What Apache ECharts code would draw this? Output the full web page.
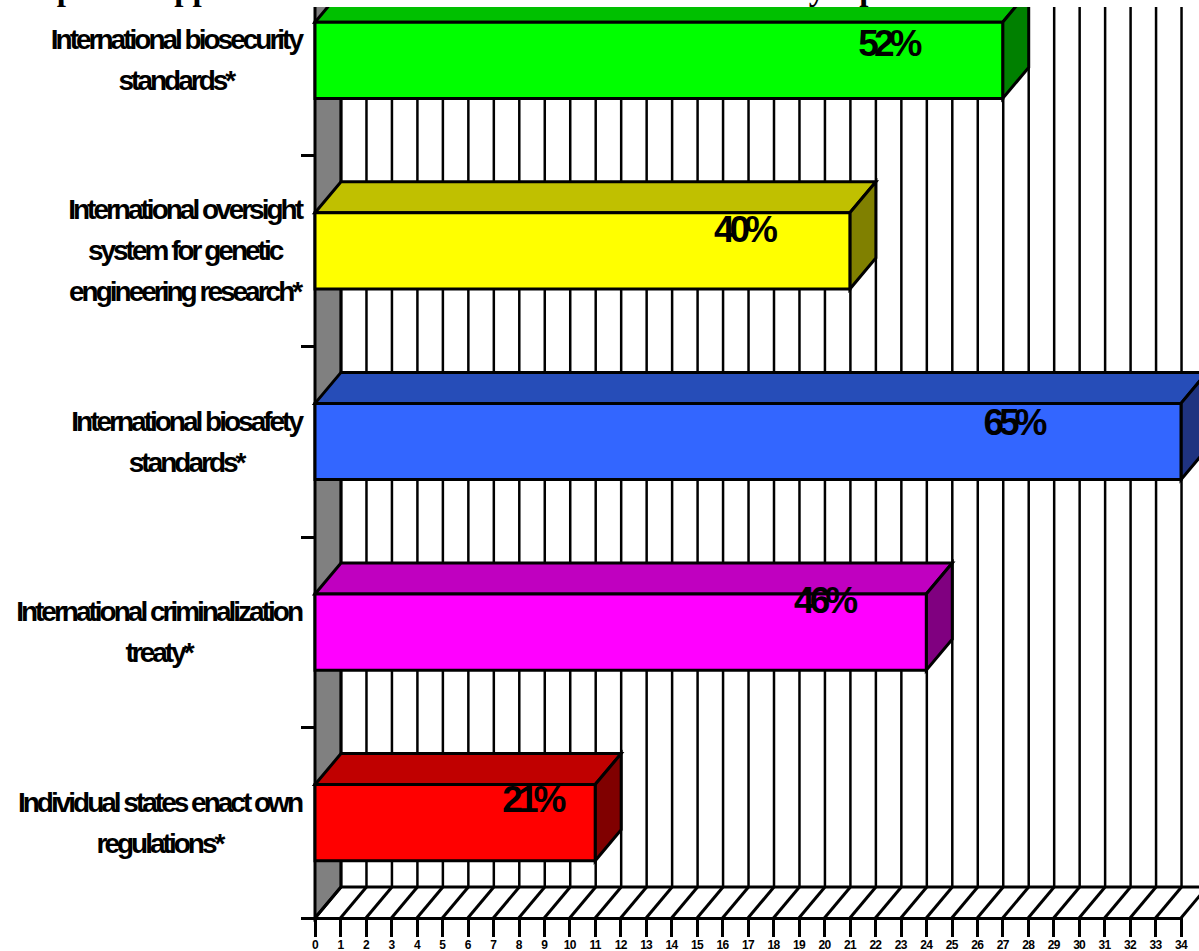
<!DOCTYPE html>
<html>
<head>
<meta charset="utf-8">
<style>
html,body{margin:0;padding:0;background:#fff;overflow:hidden}
#c{width:1199px;height:951px}
</style>
<script src="https://cdn.jsdelivr.net/npm/echarts@6/dist/echarts.min.js"></script>
</head>
<body>
<div id="c"></div>
<script>
const titleText = 'Graph 1: Support for Unilateral versus Multilateral Policy Options';
const categories = [
  'International biosecurity\nstandards*',
  'International oversight\nsystem for genetic\nengineering research*',
  'International biosafety\nstandards*',
  'International criminalization\ntreaty*',
  'Individual states enact own\nregulations*'
];
const counts = [27, 21, 34, 24, 11];
const percentLabels = ['52%', '40%', '65%', '46%', '21%'];
const barColors = ['#00ff00', '#ffff00', '#3366ff', '#ff00ff', '#ff0000'];
const topColors = ['#00c000', '#c0c000', '#264db8', '#c000c0', '#c00000'];
const sideColors = ['#008000', '#808000', '#1f3380', '#800080', '#800000'];
// label placement relative to bar length / bar middle
const pctAlong = [0.833, 0.801, 0.806, 0.832, 0.774];
const pctRise = [17, 21, 19, 32, 23];

const DX = 26, DY = 31, LW = 3;
const stroke = {stroke: '#000', lineWidth: LW};
const el = document.getElementById('c');
const chart = echarts.init(el, null, {renderer: 'svg', width: 1199, height: 951});

const measure = document.createElement('canvas').getContext('2d');
function blockWidth(text, font, spacing) {
  measure.font = font;
  return Math.max(...text.split('\n').map(l => measure.measureText(l).width + spacing * l.length));
}
const catFont = 'bold 28px "Liberation Sans"', catSpacing = -3, pctSpacing = -5, tickSpacing = -0.7;

function room(params, api) {
  const x0 = api.coord([0, 0])[0];
  const unit = api.coord([1, 0])[0] - x0;
  const band = api.size([0, 1])[1];
  const yBottom = api.coord([0, 4])[1] + band / 2;
  const yTop = -40;
  const children = [];
  children.push({type: 'polygon', shape: {points: [[x0, yBottom], [x0 + DX, yBottom - DY], [x0 + DX, yTop], [x0, yTop]]}, style: {fill: '#808080', ...stroke}});
  for (let k = 0; k <= 34; k++) {
    const x = api.coord([k, 0])[0];
    children.push({type: 'line', shape: {x1: x + DX, y1: yTop, x2: x + DX, y2: yBottom - DY}, style: {stroke: '#000', lineWidth: 2.5}});
    children.push({type: 'line', shape: {x1: x, y1: yBottom, x2: x + DX, y2: yBottom - DY}, style: stroke});
  }
  children.push({type: 'line', shape: {x1: x0 + DX, y1: yBottom - DY, x2: x0 + 35 * unit + DX, y2: yBottom - DY}, style: stroke});
  return {type: 'group', children};
}

function bar3d(params, api) {
  const i = api.value(1);
  const end = api.coord([api.value(0), i]);
  const x0 = api.coord([0, i])[0];
  const h = api.size([0, 1])[1] * 0.4;
  const x1 = end[0], yT = end[1] - h / 2, yB = end[1] + h / 2;
  return {type: 'group', children: [
    {type: 'polygon', shape: {points: [[x0, yT], [x0 + DX, yT - DY], [x1 + DX, yT - DY], [x1, yT]]}, style: {fill: topColors[i], ...stroke}},
    {type: 'polygon', shape: {points: [[x1, yT], [x1 + DX, yT - DY], [x1 + DX, yB - DY], [x1, yB]]}, style: {fill: sideColors[i], ...stroke}},
    {type: 'rect', shape: {x: x0, y: yT, width: x1 - x0, height: h}, style: {fill: barColors[i], ...stroke}},
    {type: 'text', z2: 5, style: {text: percentLabels[i], x: x0 + (x1 - x0) * pctAlong[i], y: end[1] - pctRise[i], align: 'center', verticalAlign: 'middle', font: 'bold 37px "Liberation Sans"', fill: '#000'}}
  ]};
}

function catLabel(params, api) {
  const i = api.value(0);
  const c = api.coord([0, i]);
  const w = blockWidth(categories[i], catFont, catSpacing);
  return {type: 'text', style: {text: categories[i], x: c[0] - 14 - w / 2, y: c[1], align: 'center', verticalAlign: 'middle', font: catFont, lineHeight: 41, fill: '#000'}};
}

chart.setOption({
  animation: false,
  backgroundColor: '#fff',
  grid: {left: 315, top: -35, width: 866, height: 953, containLabel: false, outerBoundsMode: 'none'},
  xAxis: {
    type: 'value', min: 0, max: 34, interval: 1,
    splitLine: {show: false},
    axisLine: {show: true, onZero: false, lineStyle: {color: '#000', width: 3}},
    axisTick: {show: true, length: 19, lineStyle: {color: '#000', width: 3}},
    axisLabel: {show: true, margin: 21, fontFamily: 'Liberation Sans', fontWeight: 'bold', fontSize: 12, color: '#000', hideOverlap: false, showMinLabel: true, showMaxLabel: true}
  },
  yAxis: {
    type: 'category', inverse: true,
    data: categories,
    axisLine: {show: true, onZero: false, lineStyle: {color: '#000', width: 3}},
    axisTick: {show: true, length: 14, lineStyle: {color: '#000', width: 3}},
    axisLabel: {show: false},
    splitLine: {show: false}
  },
  series: [
    {type: 'custom', name: 'room', z: 1, silent: true, clip: false, renderItem: room, data: [[0, 0]], encode: {x: 0, y: 1}},
    {type: 'custom', name: 'counts', z: 3, silent: true, clip: false, renderItem: bar3d, data: counts.map((v, i) => [v, i]), encode: {x: 0, y: 1}},
    {type: 'custom', name: 'labels', z: 4, silent: true, clip: false, renderItem: catLabel, coordinateSystem: 'cartesian2d', data: categories.map((c, i) => [i, i]), encode: {x: 0, y: 1}}
  ],
  graphic: [
    {type: 'rect', z: 100, silent: true, shape: {x: 0, y: 0, width: 1199, height: 7}, style: {fill: '#fff'}},
    {type: 'text', z: 101, silent: true, x: 0, y: -11, style: {text: titleText, font: 'bold 33px "Liberation Serif"', fill: '#000', verticalAlign: 'middle'}}
  ]
});

// tight tracking of the reference, applied to the rendered text by font size
el.querySelectorAll('text').forEach(t => {
  if (t.textContent === titleText) return;
  const fs = parseFloat(getComputedStyle(t).fontSize);
  const sp = fs >= 36 ? pctSpacing : fs >= 28 ? catSpacing : tickSpacing;
  t.style.letterSpacing = sp + 'px';
});
</script>
</body>
</html>
